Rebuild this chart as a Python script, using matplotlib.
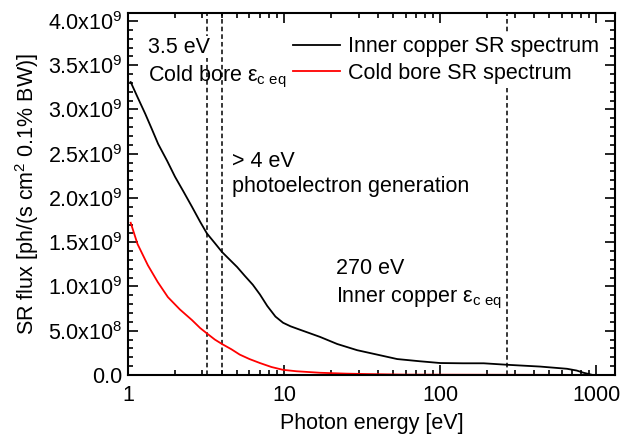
import matplotlib
matplotlib.use('Agg')
import matplotlib.pyplot as plt
from matplotlib.ticker import MultipleLocator, LogLocator, NullFormatter, FixedLocator

plt.rcParams['font.family'] = ['Liberation Sans', 'DejaVu Sans']
plt.rcParams['mathtext.fontset'] = 'custom'
plt.rcParams['mathtext.rm'] = 'Liberation Sans'
plt.rcParams['mathtext.it'] = 'Liberation Sans:italic'
plt.rcParams['mathtext.bf'] = 'Liberation Sans:bold'

# valores
energia_cobre = [1.04, 1.15, 1.29, 1.42, 1.56, 1.78, 2.0, 2.27, 2.57, 2.9, 3.2, 3.6, 4.0,
                 4.5, 5.0, 5.6, 6.3, 7.0, 7.8, 8.8, 9.85, 11.0, 12.7, 14.7, 17, 21.9,
                 29.4, 39.5, 53, 74, 100, 140, 190, 270, 437, 650, 750, 830, 950, 1400]
fluxo_cobre = [3.31e9, 3.14e9, 2.95e9, 2.78e9, 2.61e9, 2.42e9, 2.24e9, 2.07e9, 1.90e9,
               1.73e9, 1.60e9, 1.49e9, 1.39e9, 1.30e9, 1.22e9, 1.12e9, 1.02e9, 0.91e9,
               0.78e9, 0.66e9, 0.59e9, 0.55e9, 0.51e9, 0.47e9, 0.43e9, 0.35e9, 0.28e9,
               0.23e9, 0.18e9, 0.155e9, 0.135e9, 0.132e9, 0.132e9, 0.115e9, 0.095e9,
               0.07e9, 0.05e9, 0.025e9, 0.0, 0.0]

energia_fria = [1.04, 1.15, 1.34, 1.55, 1.80, 2.15, 2.57, 2.9, 3.2, 3.6, 4.0, 4.6, 5.2,
                6.0, 7.0, 8.3, 9.85, 12, 17, 25, 35, 60, 1400]
fluxo_frio = [1.72e9, 1.48e9, 1.24e9, 1.05e9, 0.88e9, 0.74e9, 0.62e9, 0.53e9, 0.47e9,
              0.40e9, 0.35e9, 0.29e9, 0.23e9, 0.18e9, 0.135e9, 0.09e9, 0.058e9,
              0.042e9, 0.025e9, 0.015e9, 0.01e9, 0.004e9, 0.0]

linhas_tracejadas = [3.2, 4.0, 270]

fs = 15.5

fig = plt.figure(figsize=(6.2, 4.34), dpi=100)
ax = fig.add_axes([0.2065, 0.136, 0.7855, 0.834])

ax.plot(energia_cobre, fluxo_cobre, color='black', lw=1.3, label='Inner copper SR spectrum')
ax.plot(energia_fria, fluxo_frio, color='red', lw=1.3, label='Cold bore SR spectrum')

for e in linhas_tracejadas:
    ax.axvline(e, color='black', lw=1.1, ls=(0, (3, 2)), zorder=1)

ax.set_xscale('log')
ax.set_xlim(1, 1320)
ax.set_ylim(0, 4.09e9)

ax.xaxis.set_major_locator(FixedLocator([1, 10, 100, 1000]))
ax.set_xticklabels(['1', '10', '100', '1000'])
ax.xaxis.set_minor_locator(LogLocator(base=10, subs=range(2, 10)))
ax.xaxis.set_minor_formatter(NullFormatter())

yticks = [i * 0.5e9 for i in range(9)]
ylabels = ['0.0']
for v in yticks[1:]:
    p = 8 if v < 1e9 else 9
    ylabels.append('%.1fx10$^{%d}$' % (v / 10 ** p, p))
ax.set_yticks(yticks)
ax.set_yticklabels(ylabels)
ax.yaxis.set_minor_locator(MultipleLocator(1e8))

ax.tick_params(which='both', direction='in', top=True, right=True, labelsize=fs, width=1.2)
ax.tick_params(which='major', length=7)
ax.tick_params(axis='x', which='major', pad=7)
ax.tick_params(axis='y', which='major', pad=4)
ax.tick_params(which='minor', length=3.5)
for s in ax.spines.values():
    s.set_linewidth(1.5)

ax.set_xlabel('Photon energy [eV]', fontsize=fs, labelpad=5)
ax.set_ylabel('SR flux [ph/(s cm$^{2}$ 0.1% BW)]', fontsize=fs, labelpad=5)

ax.text(1.34, 3.64e9, '3.5 eV', fontsize=fs, va='baseline',
        bbox=dict(facecolor='white', edgecolor='none', pad=0.5))
ax.text(1.34, 3.32e9, 'Cold bore ε$_{\\mathrm{c\\ eq}}$', fontsize=fs, va='baseline')
ax.text(4.64, 2.35e9, '> 4 eV', fontsize=fs, va='baseline')
ax.text(4.64, 2.07e9, 'photoelectron generation', fontsize=fs, va='baseline')
ax.text(21.5, 1.14e9, '270 eV', fontsize=fs, va='baseline')
ax.text(21.5, 0.82e9, 'Inner copper ε$_{\\mathrm{c\\ eq}}$', fontsize=fs, va='baseline')

leg = ax.legend(loc='upper right', bbox_to_anchor=(0.975, 0.948), frameon=True, fontsize=fs,
                handlelength=2.2, handletextpad=0.33, labelspacing=0.25, borderaxespad=0,
                borderpad=0.2)
leg.get_frame().set_edgecolor('none')
leg.get_frame().set_facecolor('white')
leg.get_frame().set_alpha(1)
leg.get_frame().set_boxstyle('square', pad=0)

fig.savefig('out.png', dpi=100)
